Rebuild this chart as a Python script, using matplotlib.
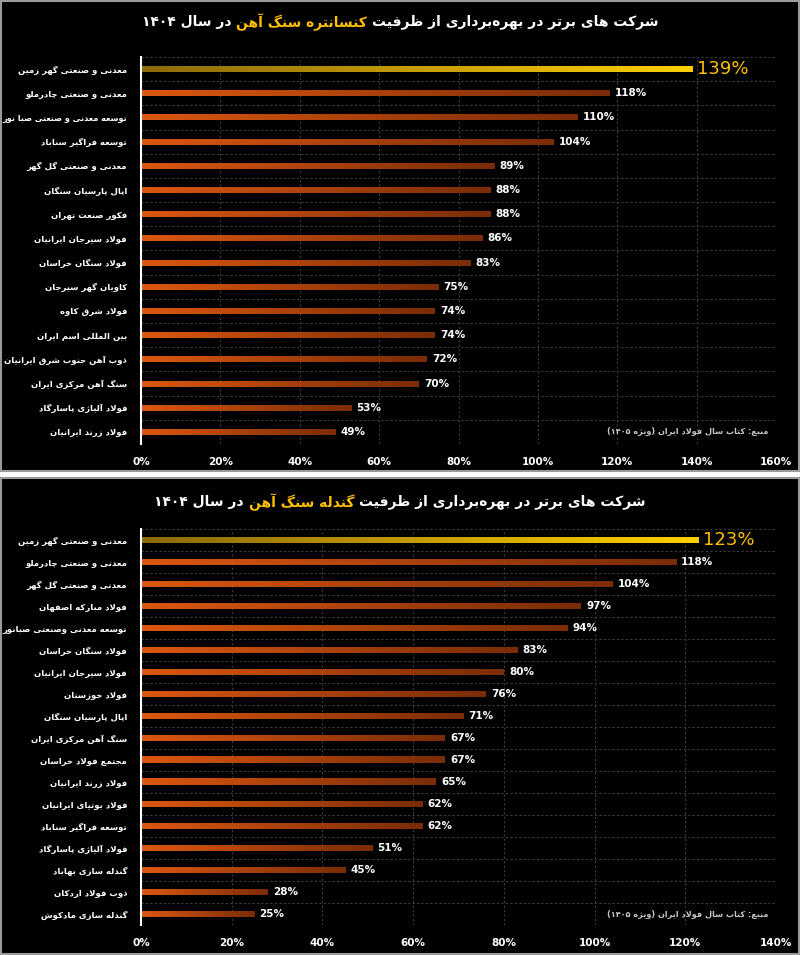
import numpy as np
import matplotlib
matplotlib.use('Agg')
import matplotlib.pyplot as plt
from matplotlib.patches import Rectangle
from matplotlib.colors import to_rgb

# --- data: panel 1 (concentrate) ---
conc_names = ['معدنی و صنعتی گهر زمین', 'معدنی و صنعتی چادرملو', 'توسعه معدنی و صنعتی صبا نور',
              'توسعه فراگیر سناباد', 'معدنی و صنعتی گل گهر', 'اپال پارسیان سنگان', 'فکور صنعت تهران',
              'فولاد سیرجان ایرانیان', 'فولاد سنگان خراسان', 'کاویان گهر سیرجان', 'فولاد شرق کاوه',
              'بین المللی اسم ایران', 'ذوب آهن جنوب شرق ایرانیان', 'سنگ آهن مرکزی ایران',
              'فولاد آلیاژی پاسارگاد', 'فولاد زرند ایرانیان']
conc_vals = [139, 118, 110, 104, 89, 88, 88, 86, 83, 75, 74, 74, 72, 70, 53, 49]
conc_ticks = [0, 20, 40, 60, 80, 100, 120, 140, 160]

# --- data: panel 2 (pellet) ---
pell_names = ['معدنی و صنعتی گهر زمین', 'معدنی و صنعتی چادرملو', 'معدنی و صنعتی گل گهر',
              'فولاد مبارکه اصفهان', 'توسعه معدنی وصنعتی صبانور', 'فولاد سنگان خراسان',
              'فولاد سیرجان ایرانیان', 'فولاد خوزستان', 'اپال پارسیان سنگان', 'سنگ آهن مرکزی ایران',
              'مجتمع فولاد خراسان', 'فولاد زرند ایرانیان', 'فولاد بوتیای ایرانیان',
              'توسعه فراگیر سناباد', 'فولاد آلیاژی پاسارگاد', 'گندله سازی بهاباد',
              'ذوب فولاد اردکان', 'گندله سازی مادکوش']
pell_vals = [123, 118, 104, 97, 94, 83, 80, 76, 71, 67, 67, 65, 62, 62, 51, 45, 28, 25]
pell_ticks = [0, 20, 40, 60, 80, 100, 120, 140]

title1 = [('شرکت های برتر در بهره\u200cبرداری از ظرفیت', 'white'), ('کنسانتره سنگ آهن', '#ffc000'),
          ('در سال ۱۴۰۴', 'white')]
title2 = [('شرکت های برتر در بهره\u200cبرداری از ظرفیت', 'white'), ('گندله سنگ آهن', '#ffc000'),
          ('در سال ۱۴۰۴', 'white')]
source = 'منبع: کتاب سال فولاد ایران (ویژه ۱۴۰۵)'

# --- minimal persian shaping (matplotlib has no bidi / joining) ---
FORMS = {
    'ا': '\uFE8D\uFE8E', 'آ': '\uFE81\uFE82', 'د': '\uFEA9\uFEAA', 'ذ': '\uFEAB\uFEAC',
    'ر': '\uFEAD\uFEAE', 'ز': '\uFEAF\uFEB0', 'ژ': '\uFB8A\uFB8B', 'و': '\uFEED\uFEEE',
    'ب': '\uFE8F\uFE90\uFE91\uFE92', 'پ': '\uFB56\uFB57\uFB58\uFB59', 'ت': '\uFE95\uFE96\uFE97\uFE98',
    'ث': '\uFE99\uFE9A\uFE9B\uFE9C', 'ج': '\uFE9D\uFE9E\uFE9F\uFEA0', 'چ': '\uFB7A\uFB7B\uFB7C\uFB7D',
    'ح': '\uFEA1\uFEA2\uFEA3\uFEA4', 'خ': '\uFEA5\uFEA6\uFEA7\uFEA8', 'س': '\uFEB1\uFEB2\uFEB3\uFEB4',
    'ش': '\uFEB5\uFEB6\uFEB7\uFEB8', 'ص': '\uFEB9\uFEBA\uFEBB\uFEBC', 'ض': '\uFEBD\uFEBE\uFEBF\uFEC0',
    'ط': '\uFEC1\uFEC2\uFEC3\uFEC4', 'ظ': '\uFEC5\uFEC6\uFEC7\uFEC8', 'ع': '\uFEC9\uFECA\uFECB\uFECC',
    'غ': '\uFECD\uFECE\uFECF\uFED0', 'ف': '\uFED1\uFED2\uFED3\uFED4', 'ق': '\uFED5\uFED6\uFED7\uFED8',
    'ک': '\uFB8E\uFB8F\uFB90\uFB91', 'گ': '\uFB92\uFB93\uFB94\uFB95', 'ل': '\uFEDD\uFEDE\uFEDF\uFEE0',
    'م': '\uFEE1\uFEE2\uFEE3\uFEE4', 'ن': '\uFEE5\uFEE6\uFEE7\uFEE8', 'ه': '\uFEE9\uFEEA\uFEEB\uFEEC',
    'ی': '\uFBFC\uFBFD\uFBFE\uFBFF',
}
LAMALEF = {'ا': '\uFEFB\uFEFC', 'آ': '\uFEF5\uFEF6'}
DIGITS = '0123456789۰۱۲۳۴۵۶۷۸۹%'


def joins_next(c):
    return c in FORMS and len(FORMS[c]) == 4


def fa(s):
    out = []
    i = 0
    n = len(s)
    while i < n:
        c = s[i]
        if c not in FORMS:
            if c != '\u200c':
                out.append(c)
            i += 1
            continue
        prev = i > 0 and joins_next(s[i - 1])
        if c == 'ل' and i + 1 < n and s[i + 1] in LAMALEF:
            out.append(LAMALEF[s[i + 1]][1 if prev else 0])
            i += 2
            continue
        nxt = joins_next(c) and i + 1 < n and s[i + 1] in FORMS
        f = FORMS[c]
        if prev and nxt:
            out.append(f[3])
        elif prev:
            out.append(f[1])
        elif nxt:
            out.append(f[2])
        else:
            out.append(f[0])
        i += 1
    # visual order: reverse, keeping number runs left-to-right
    runs = []
    for ch in out:
        if ch in DIGITS and runs and runs[-1][0] in DIGITS:
            runs[-1] += ch
        else:
            runs.append(ch)
    txt = ''.join(runs[::-1])
    return txt.translate(str.maketrans('()', ')('))


FA_FONT = 'DejaVu Sans'
NUM_FONT = ['Liberation Sans Narrow', 'DejaVu Sans']

fig = plt.figure(figsize=(8, 9.55), dpi=100)
fig.patch.set_facecolor('white')
fig.patches.append(Rectangle((0.001, 1 - 471 / 955), 0.998, 471 / 955 - 0.001, transform=fig.transFigure,
                             facecolor='black', edgecolor='#9a9a9a', lw=1.5, zorder=-10))
fig.patches.append(Rectangle((0.001, 0.001), 0.998, (955 - 478) / 955 - 0.001, transform=fig.transFigure,
                             facecolor='black', edgecolor='#9a9a9a', lw=1.5, zorder=-10))

GOLD = (to_rgb('#8c6a0c'), to_rgb('#ffd000'))
ORANGE = (to_rgb('#dc5710'), to_rgb('#7a2c06'))
LABEL_SIZE = 6.1


def panel(ax, names, vals, ticks, spacing_px):
    n = len(vals)
    xmax = ticks[-1]
    ax.set_facecolor('black')
    h = 6.0 / spacing_px
    t = np.linspace(0, 1, 256)[:, None]
    for i, v in enumerate(vals):
        c0, c1 = GOLD if i == 0 else ORANGE
        grad = ((1 - t) * np.array(c0) + t * np.array(c1))[None, :, :]
        ax.imshow(grad, extent=[0, v, i + h / 2, i - h / 2], aspect='auto', interpolation='bilinear', zorder=3)
        if i == 0:
            ax.text(v + xmax * 0.007, i, f'{v}%', va='center', ha='left', color='#ffc000',
                    fontsize=13, family=NUM_FONT, zorder=4)
        else:
            ax.text(v + xmax * 0.008, i, f'{v}%', va='center', ha='left', color='white',
                    fontsize=7.5, fontweight='bold', family=NUM_FONT, zorder=4)
    ax.set_xlim(0, xmax)
    ax.set_ylim(n - 0.5, -0.5)
    ax.set_yticks(range(n))
    ax.set_yticklabels([fa(s) for s in names], color='white', fontsize=LABEL_SIZE, fontweight='bold',
                       family=FA_FONT)
    ax.set_yticks(np.arange(-0.5, n, 1), minor=True)
    ax.set_xticks(ticks)
    ax.set_xticklabels([f'{k}%' for k in ticks], color='white', fontsize=7.5, fontweight='bold', family=NUM_FONT)
    ax.tick_params(axis='both', which='both', length=0)
    ax.tick_params(axis='y', pad=10)
    ax.tick_params(axis='x', pad=9)
    ax.grid(axis='x', which='major', color='#3c3c3c', linestyle=(0, (2, 2)), lw=0.8, zorder=1)
    ax.grid(axis='y', which='minor', color='#3c3c3c', linestyle=(0, (2, 2)), lw=0.8, zorder=1)
    for s in ['top', 'right', 'bottom']:
        ax.spines[s].set_visible(False)
    ax.spines['left'].set_color('white')
    ax.spines['left'].set_linewidth(1.5)
    ax.spines['left'].set_zorder(5)
    ax.text(0.988, (0.5) / n, fa(source), transform=ax.transAxes, ha='right', va='center',
            color='#c8c8c8', fontsize=5.9, fontweight='bold', family=FA_FONT, zorder=4)


def fit_labels(ax, max_px=126):
    # shrink the few long names so they stay inside the panel
    rend = fig.canvas.get_renderer()
    for lab in ax.get_yticklabels():
        w = lab.get_window_extent(rend).width
        if w > max_px:
            lab.set_fontsize(LABEL_SIZE * max_px / w)


def title_line(y, parts, size=10):
    rend = fig.canvas.get_renderer()
    gap = 5
    texts = []
    widths = []
    # visual order is right to left, so draw the parts reversed
    for txt, col in parts[::-1]:
        t = fig.text(0, y, fa(txt), color=col, fontsize=size, fontweight='bold', family=FA_FONT,
                     ha='left', va='center')
        texts.append(t)
        widths.append(t.get_window_extent(rend).width)
    W = fig.bbox.width
    total = sum(widths) + gap * (len(widths) - 1)
    x = (W - total) / 2
    for t, w in zip(texts, widths):
        t.set_x(x / W)
        x += w + gap


ax1 = fig.add_axes([141 / 800, 1 - 444 / 955, 635 / 800, 387 / 955])
panel(ax1, conc_names, conc_vals, conc_ticks, 24.2)
ax2 = fig.add_axes([141 / 800, 1 - 925 / 955, 635 / 800, 396 / 955])
panel(ax2, pell_names, pell_vals, pell_ticks, 22.0)
fit_labels(ax1)
fit_labels(ax2)

title_line(1 - 22 / 955, title1)
title_line(1 - 502 / 955, title2)

fig.savefig('out.png', dpi=100, facecolor=fig.get_facecolor())
